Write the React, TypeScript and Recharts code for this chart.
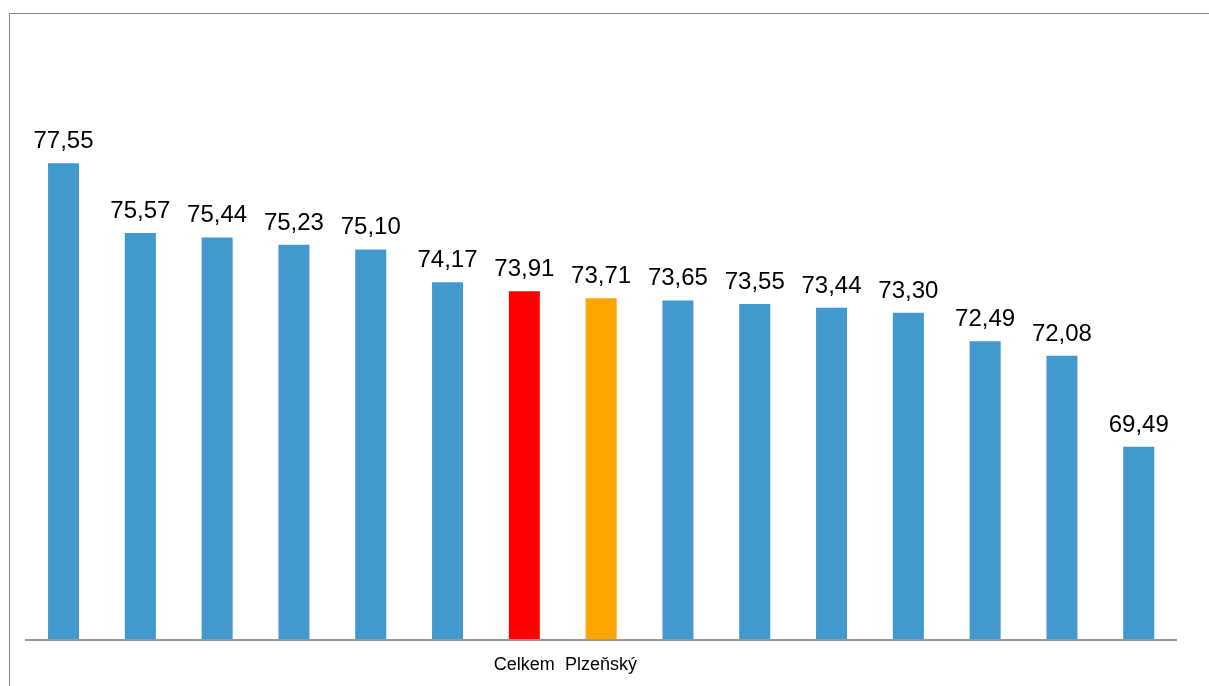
import React from "react";
import { BarChart, Bar, XAxis, YAxis, Cell, LabelList } from "recharts";

const categories = ["", "", "", "", "", "", "Celkem", "Plzeňský", "", "", "", "", "", "", ""];
const values = [77.55, 75.57, 75.44, 75.23, 75.1, 74.17, 73.91, 73.71, 73.65, 73.55, 73.44, 73.3, 72.49, 72.08, 69.49];
const barColors = ["#4199CD", "#4199CD", "#4199CD", "#4199CD", "#4199CD", "#4199CD", "#FF0000", "#FFA500", "#4199CD", "#4199CD", "#4199CD", "#4199CD", "#4199CD", "#4199CD", "#4199CD"];

const data = categories.map((name, i) => ({ key: i, name, value: values[i] }));

const FONT = "'Liberation Sans', Arial, sans-serif";

const Tick = (props: any) => {
  const { x, y, payload } = props;
  const label = categories[payload.index] ?? "";
  if (!label) return null;
  return (
    <text x={x} y={y + 28} textAnchor="middle" fontSize={18} fontFamily={FONT} fill="#000">
      {label}
    </text>
  );
};

export default function App() {
  return (
    <div style={{ position: "relative", width: 1193, height: 670, background: "#fff" }}>
      <div
        style={{
          position: "fixed",
          left: 9,
          top: 13,
          right: -20,
          bottom: -20,
          borderTop: "1.5px solid #888",
          borderLeft: "1.5px solid #888",
          pointerEvents: "none",
        }}
      />
      <div style={{ position: "absolute", left: 0, top: 0 }}>
        <BarChart
          width={1193}
          height={670}
          data={data}
          margin={{ top: 69, right: 24, left: 17, bottom: 8 }}
          barCategoryGap="30%"
        >
          <XAxis
            dataKey="key"
            height={30}
            axisLine={{ stroke: "#999", strokeWidth: 2 }}
            tickLine={false}
            tickSize={0}
            interval={0}
            tick={<Tick />}
          />
          <YAxis hide domain={[64, 80]} type="number" allowDataOverflow />
          <Bar dataKey="value" isAnimationActive={false}>
            {data.map((d, i) => (
              <Cell key={i} fill={barColors[i]} />
            ))}
            <LabelList
              dataKey="value"
              position="top"
              offset={15}
              fontSize={24}
              fontFamily={FONT}
              fill="#000"
              formatter={(v: any) => Number(v).toFixed(2).replace(".", ",")}
            />
          </Bar>
        </BarChart>
      </div>
    </div>
  );
}
